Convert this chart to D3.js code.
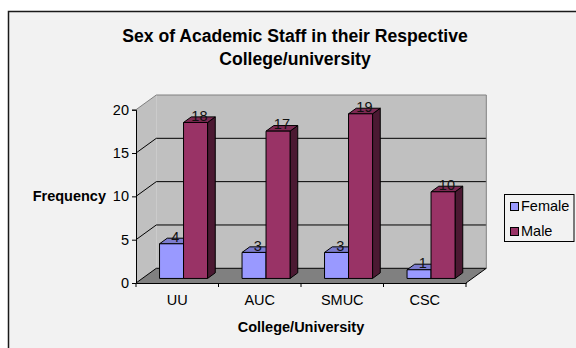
<!DOCTYPE html>
<html>
<head>
<meta charset="utf-8">
<script src="https://cdn.jsdelivr.net/npm/d3@7"></script>
<style>
  html, body { margin: 0; padding: 0; background: #ffffff; }
  svg { display: block; font-family: "Liberation Sans", Arial, sans-serif; }
</style>
</head>
<body>
<svg id="chart" width="576" height="348"></svg>
<script>
// Chart data
const categories = ["UU", "AUC", "SMUC", "CSC"];
const seriesNames = ["Female", "Male"];
const femaleValues = [4, 3, 3, 1];
const maleValues = [18, 17, 19, 10];
const yTicks = [0, 5, 10, 15, 20];
const seriesColors = ["#9999ff", "#993366"];

const svg = d3.select("#chart");

// Chart area with its frame
svg.append("rect")
  .attr("x", 8.5).attr("y", 11.5)
  .attr("width", 620).attr("height", 400)
  .attr("fill", "#f2f2f2")
  .attr("stroke", "#1a1a1a").attr("stroke-width", 1.5);

// Front plane of the 3D plot and the depth offset of the back wall
const left = 136, right = 466, bottom = 283;
const DX = 20.3, DY = 14.7;
const y = d3.scaleLinear().domain([0, 20]).range([bottom, 109.7]);
const x = d3.scaleBand().domain(categories).range([left, right])
  .paddingInner(0.418).paddingOuter(0.209);
const xs = d3.scaleBand().domain(seriesNames).range([0, x.bandwidth()]);
const xStep = d3.scaleBand().domain(categories).range([left, right]);

const P = (px, py, d) => [px + d * DX, py - d * DY];
const poly = pts => "M" + pts.map(p => p.join(",")).join("L") + "Z";

const g = svg.append("g");

// Walls and floor
g.append("path")
  .attr("d", poly([P(left, y(0), 0), P(left, y(0), 1), P(left, y(20), 1), P(left, y(20), 0)]))
  .attr("fill", "#c0c0c0");
g.append("path")
  .attr("d", poly([P(left, y(0), 1), P(right, y(0), 1), P(right, y(20), 1), P(left, y(20), 1)]))
  .attr("fill", "#c0c0c0");
g.append("path")
  .attr("d", poly([P(left, y(0), 0), P(right, y(0), 0), P(right, y(0), 1), P(left, y(0), 1)]))
  .attr("fill", "#808080");

// Gridlines across left and back walls
yTicks.forEach(t => {
  const a = P(left, y(t), 0), b = P(left, y(t), 1), c = P(right, y(t), 1);
  const col = t === 20 ? "#808080" : "#000";
  g.append("path")
    .attr("d", `M${a}L${b}L${c}`)
    .attr("fill", "none").attr("stroke", col).attr("stroke-width", 1);
});
// Back wall right edge
g.append("path")
  .attr("d", `M${P(right, y(0), 1)}L${P(right, y(20), 1)}`)
  .attr("stroke", "#808080").attr("stroke-width", 1);
// Floor right edge
g.append("path")
  .attr("d", `M${P(right, y(0), 0)}L${P(right, y(0), 1)}`)
  .attr("stroke", "#000").attr("stroke-width", 1);

// Bars
const d0 = 0.31, d1 = 0.69;
const rows = categories.map((c, i) => ({ cat: c, values: [femaleValues[i], maleValues[i]] }));
const shade = (col, k) => d3.rgb(col).darker(k).toString();

rows.forEach(r => {
  r.values.forEach((v, si) => {
    const x0 = x(r.cat) + xs(seriesNames[si]);
    const x1 = x0 + xs.bandwidth();
    const col = seriesColors[si];
    const yt = y(v), yb = y(0);
    const bar = g.append("g").attr("stroke", "#000").attr("stroke-width", 1).attr("stroke-linejoin", "round");
    // right side
    bar.append("path")
      .attr("d", poly([P(x1, yb, d0), P(x1, yb, d1), P(x1, yt, d1), P(x1, yt, d0)]))
      .attr("fill", shade(col, 2));
    // top
    bar.append("path")
      .attr("d", poly([P(x0, yt, d0), P(x1, yt, d0), P(x1, yt, d1), P(x0, yt, d1)]))
      .attr("fill", shade(col, 0.6));
    // front
    bar.append("path")
      .attr("d", poly([P(x0, yb, d0), P(x1, yb, d0), P(x1, yt, d0), P(x0, yt, d0)]))
      .attr("fill", col);
  });
});

// Value labels at the centre of each bar top
rows.forEach(r => {
  r.values.forEach((v, si) => {
    const cx = x(r.cat) + xs(seriesNames[si]) + xs.bandwidth() / 2;
    const p = P(cx, y(v), 0.5);
    g.append("text")
      .attr("x", p[0]).attr("y", p[1] + 1)
      .attr("text-anchor", "middle")
      .attr("font-size", "14.5px").attr("fill", "#111")
      .text(v);
  });
});

// Value axis
const yAxis = svg.append("g").attr("transform", `translate(${left},0)`)
  .call(d3.axisLeft(y).tickValues(yTicks).tickSize(4).tickPadding(3));
yAxis.select(".domain").attr("stroke", "#000");
yAxis.selectAll("line").attr("stroke", "#000");
yAxis.selectAll("text").attr("font-size", "14.5px").attr("fill", "#000")
  .attr("font-family", "Liberation Sans, Arial, sans-serif");

// Category axis
const xAxis = svg.append("g").attr("transform", `translate(0,${bottom})`)
  .call(d3.axisBottom(xStep).tickSize(0).tickPadding(0).tickFormat(() => ""));
xAxis.select(".domain").attr("stroke", "#000");
const edges = categories.map(c => xStep(c)).concat([right]);
xAxis.selectAll(".edge").data(edges).enter().append("line")
  .attr("x1", d => d).attr("x2", d => d).attr("y1", 0).attr("y2", 4)
  .attr("stroke", "#000");
svg.append("g").selectAll("text").data(categories).enter().append("text")
  .attr("x", d => xStep(d) + xStep.bandwidth() / 2)
  .attr("y", 305)
  .attr("text-anchor", "middle")
  .attr("font-size", "14.5px").attr("fill", "#000")
  .text(d => d);

// Titles
svg.append("text")
  .attr("x", 295).attr("y", 42)
  .attr("text-anchor", "middle")
  .attr("font-size", "17.6px").attr("font-weight", "bold").attr("fill", "#000")
  .text("Sex of Academic Staff in their Respective");
svg.append("text")
  .attr("x", 295).attr("y", 65)
  .attr("text-anchor", "middle")
  .attr("font-size", "17.6px").attr("font-weight", "bold").attr("fill", "#000")
  .text("College/university");
svg.append("text")
  .attr("x", 106).attr("y", 201)
  .attr("text-anchor", "end")
  .attr("font-size", "14.5px").attr("font-weight", "bold").attr("fill", "#000")
  .text("Frequency");
svg.append("text")
  .attr("x", (left + right) / 2).attr("y", 331.5)
  .attr("text-anchor", "middle")
  .attr("font-size", "14.5px").attr("font-weight", "bold").attr("fill", "#000")
  .text("College/University");

// Legend
const legend = svg.append("g");
legend.append("rect")
  .attr("x", 504.5).attr("y", 194.5).attr("width", 69.5).attr("height", 47)
  .attr("fill", "#f2f2f2").attr("stroke", "#000").attr("stroke-width", 1);
seriesNames.forEach((s, i) => {
  legend.append("rect")
    .attr("x", 510.5).attr("y", 202.5 + i * 25).attr("width", 8).attr("height", 8)
    .attr("fill", seriesColors[i]).attr("stroke", "#000").attr("stroke-width", 1);
  legend.append("text")
    .attr("x", 521).attr("y", 211 + i * 25)
    .attr("font-size", "14.5px").attr("fill", "#000")
    .text(s);
});
</script>
</body>
</html>
